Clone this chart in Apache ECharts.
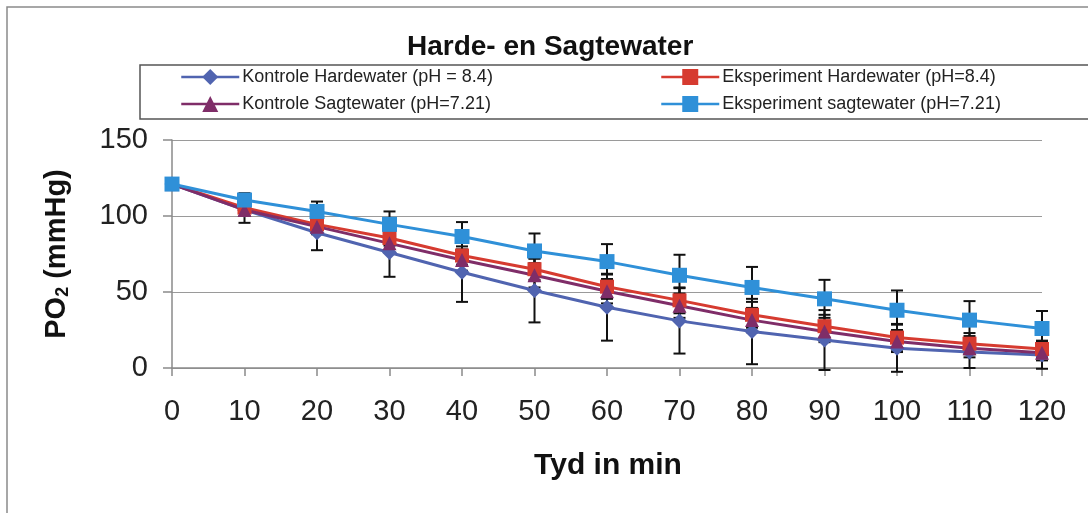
<!DOCTYPE html>
<html>
<head>
<meta charset="utf-8">
<script src="https://cdn.jsdelivr.net/npm/echarts@6/dist/echarts.min.js"></script>
<style>html,body{margin:0;padding:0;background:#fff}#c{width:1088px;height:513px}</style>
</head>
<body>
<div id="c"></div>
<script>
// ---- data ----
const timeMin = [0, 10, 20, 30, 40, 50, 60, 70, 80, 90, 100, 110, 120];
const yTicks = [0, 50, 100, 150];

const kontroleHard = [121, 104, 89, 76, 63, 51, 40, 31, 24, 18.4, 13, 10.5, 8.5];
const kontroleHardErr = [0, 8.5, 11.5, 16, 19.5, 21, 22, 21.5, 21.5, 19.7, 15.5, 10.5, 9];

const eksHard = [121, 105.5, 94.5, 85.5, 74, 65, 53.5, 44.5, 35, 27.5, 20, 16, 12.5];
const eksHardErr = [0, 3, 4, 5, 6, 7, 8, 8.5, 8.5, 7.5, 9, 7, 5.5];

const kontroleSag = [121, 104, 93, 82, 71, 61, 50.5, 41, 31.5, 24, 17.5, 13, 10];
const kontroleSagErr = [0, 4, 5, 6, 7, 8, 8, 8, 8, 7, 7, 6, 5];

const eksSag = [121, 110.5, 103, 94.5, 86.5, 77, 70, 61, 53, 45.5, 38, 31.5, 26];
const eksSagErr = [0, 4.5, 6.5, 8.5, 9.5, 11.5, 11.5, 13.5, 13.5, 12.5, 13, 12.5, 11.5];

const names = [
  'Kontrole Hardewater (pH = 8.4)',
  'Eksperiment Hardewater (pH=8.4)',
  'Kontrole Sagtewater (pH=7.21)',
  'Eksperiment sagtewater (pH=7.21)'
];

// ---- chart ----
const FONT = '"Liberation Sans", Arial, sans-serif';

function pairs(vals) { return timeMin.map((t, i) => [t, vals[i]]); }
function errData(vals, errs) {
  const out = [];
  timeMin.forEach((t, i) => { if (errs[i] > 0) out.push([t, vals[i] - errs[i], vals[i] + errs[i]]); });
  return out;
}
function errSeries(name, vals, errs) {
  return {
    type: 'custom', name: name, silent: true,
    data: errData(vals, errs),
    renderItem: function (params, api) {
      const x = api.value(0);
      const lo = api.coord([x, api.value(1)]);
      const hi = api.coord([x, api.value(2)]);
      const w = 6;
      const st = { stroke: '#111', lineWidth: 2 };
      return {
        type: 'group',
        children: [
          { type: 'line', shape: { x1: lo[0], y1: lo[1], x2: hi[0], y2: hi[1] }, style: st },
          { type: 'line', shape: { x1: lo[0] - w, y1: lo[1], x2: lo[0] + w, y2: lo[1] }, style: st },
          { type: 'line', shape: { x1: hi[0] - w, y1: hi[1], x2: hi[0] + w, y2: hi[1] }, style: st }
        ]
      };
    }
  };
}
function lineSeries(name, vals, color, symbol, size) {
  return {
    type: 'line', name: name, data: pairs(vals),
    symbol: symbol, symbolSize: size,
    lineStyle: { color: color, width: 3 },
    itemStyle: { color: color },
    emphasis: { disabled: true },
    animation: false
  };
}

const cKH = '#5064B0', cEH = '#D63B30', cKS = '#7F2D68', cES = '#2F90D8';

const legendCommon = {
  orient: 'vertical', top: 68,
  itemWidth: 58, itemHeight: 20, itemGap: 9, padding: 0,
  lineStyle: { width: 2.5 },
  textStyle: { fontFamily: FONT, fontSize: 18, color: '#222', padding: [0, 0, 0, -2] }
};

const chart = echarts.init(document.getElementById('c'));
chart.setOption({
  backgroundColor: '#fff',
  animation: false,
  title: {
    text: 'Harde- en Sagtewater',
    left: 402, top: 28,
    textStyle: { fontFamily: FONT, fontSize: 28, fontWeight: 'bold', color: '#111' }
  },
  legend: [
    Object.assign({ data: [names[0], names[2]], left: 180 }, legendCommon),
    Object.assign({ data: [names[1], names[3]], left: 660 }, legendCommon)
  ],
  grid: { left: 172, right: 46, top: 140, bottom: 145 },
  xAxis: {
    type: 'value', min: 0, max: 120, interval: 10,
    axisLine: { show: true, lineStyle: { color: '#8a8a8a', width: 1.5 } },
    axisTick: { show: true, length: 8, lineStyle: { color: '#8a8a8a', width: 1.5 } },
    splitLine: { show: false },
    axisLabel: { margin: 29, fontFamily: FONT, fontSize: 29, color: '#222' }
  },
  yAxis: {
    type: 'value', min: 0, max: 150, interval: 50,
    name: '{a|PO}{s|2}{a| (mmHg)}',
    nameLocation: 'middle', nameRotate: 90, nameGap: 100,
    nameTextStyle: {
      rich: {
        a: { fontFamily: FONT, fontSize: 29, fontWeight: 'bold', color: '#111' },
        s: { fontFamily: FONT, fontSize: 18, fontWeight: 'bold', color: '#111', verticalAlign: 'bottom', padding: [12, 0, 0, 0] }
      }
    },
    axisLine: { show: true, lineStyle: { color: '#8a8a8a', width: 1.5 } },
    axisTick: { show: true, length: 9, lineStyle: { color: '#8a8a8a', width: 1.5 } },
    splitLine: { show: true, lineStyle: { color: '#9a9a9a', width: 1.2 } },
    axisLabel: {
      margin: 24, fontFamily: FONT, fontSize: 29, color: '#222',
      formatter: function (v) { return yTicks.indexOf(v) >= 0 ? String(v) : ''; }
    }
  },
  graphic: [
    { type: 'rect', shape: { x: 7, y: 7, width: 1200, height: 600 }, style: { fill: 'none', stroke: '#8a8a8a', lineWidth: 1.5 }, silent: true, z: -10 },
    { type: 'rect', shape: { x: 140, y: 65, width: 1000, height: 54 }, style: { fill: 'none', stroke: '#555', lineWidth: 1.5 }, silent: true, z: -10 },
    {
      type: 'text', x: 608, y: 466, silent: true,
      style: { text: 'Tyd in min', font: 'bold 30px ' + FONT, fill: '#111', align: 'center', verticalAlign: 'middle' }
    }
  ],
  series: [
    errSeries('err0', kontroleHard, kontroleHardErr),
    lineSeries(names[0], kontroleHard, cKH, 'diamond', 15),
    errSeries('err1', eksHard, eksHardErr),
    lineSeries(names[1], eksHard, cEH, 'rect', 14),
    errSeries('err2', kontroleSag, kontroleSagErr),
    lineSeries(names[2], kontroleSag, cKS, 'triangle', 14),
    errSeries('err3', eksSag, eksSagErr),
    lineSeries(names[3], eksSag, cES, 'rect', 15)
  ]
});
</script>
</body>
</html>
